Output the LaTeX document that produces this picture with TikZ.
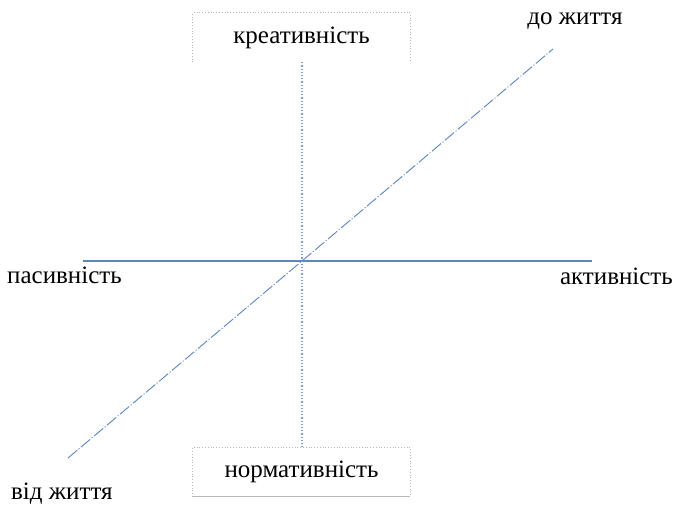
\documentclass[tikz,border=0pt]{standalone}
\usepackage{fontspec}
\setmainfont{Liberation Serif}
\definecolor{achsblau}{HTML}{5B86C0}
\definecolor{rahmgrau}{HTML}{B8B8B8}

\begin{document}
\begin{tikzpicture}[
    x=1pt, y=-1pt,
    lbl/.style={inner sep=0pt, font=\fontsize{25}{28}\selectfont},
    feld/.style={inner sep=0pt, minimum width=217pt, minimum height=49pt,
                 font=\fontsize{25}{28}\selectfont},
    rahmen/.style={draw=rahmgrau, dotted, line width=0.8pt},
    achse/.style={achsblau, line width=1.3pt},
    vachse/.style={achsblau!80, dotted, line width=1.2pt},
    dachse/.style={achsblau, line width=0.9pt, dash pattern=on 12pt off 2pt on 1pt off 2pt}
  ]
  \useasboundingbox (0,0) rectangle (674,504);

  % Felder oben und unten
  \node[feld] (kreat) at (301.5,37.5) {креативність};
  \node[feld] (norm) at (301.5,472) {нормативність};
  \draw[rahmen] (kreat.south west) -- (kreat.north west)
    -- (kreat.north east) -- (kreat.south east);
  \draw[rahmen] (norm.south west) -- (norm.north west)
    -- (norm.north east) -- (norm.south east);
  \draw[rahmgrau, line width=0.6pt] (norm.south west) -- (norm.south east);

  % Achsen
  \coordinate (mitte) at (302,261);
  \coordinate (links) at (83,261);
  \coordinate (rechts) at (592,261);
  \coordinate (unten) at (68,458);
  \coordinate (oben) at (553,49);

  \node[lbl, anchor=west] (pas) at (7,275) {пасивність};
  \node[lbl, anchor=east] (akt) at (673,276) {активність};
  \node[lbl] (zum) at (575,21) {до життя};
  \node[lbl, anchor=west] (weg) at (11,494) {від життя};

  \draw[achse] (links) -- (mitte) -- (rechts);
  \draw[vachse] (kreat.south -| mitte) -- (norm.north -| mitte);
  \draw[dachse] (unten) -- (mitte) -- (oben);
\end{tikzpicture}
\end{document}
